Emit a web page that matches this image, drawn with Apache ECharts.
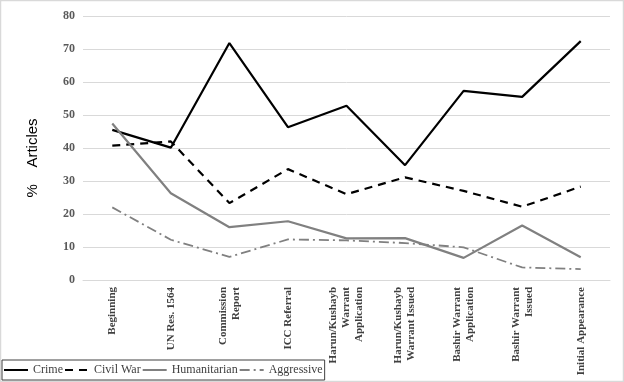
<!DOCTYPE html>
<html><head><meta charset="utf-8">
<script src="https://cdn.jsdelivr.net/npm/echarts@6/dist/echarts.min.js"></script>
<style>html,body{margin:0;padding:0;background:#fff}#c{width:624px;height:382px}</style>
</head><body><div id="c"></div>
<script>
const categories = ["Beginning","UN Res. 1564","Commission\nReport","ICC Referral","Harun/Kushayb\nWarrant\nApplication","Harun/Kushayb\nWarrant Issued","Bashir Warrant\nApplication","Bashir Warrant\nIssued","Initial Appearance"];
const crime = [45.5, 40.1, 71.8, 46.3, 52.8, 34.8, 57.3, 55.5, 72.4];
const civilWar = [40.7, 42.0, 23.3, 33.6, 26.0, 31.1, 27.0, 22.2, 28.3];
const humanitarian = [47.4, 26.3, 16.0, 17.8, 12.6, 12.7, 6.7, 16.5, 6.9];
const aggressive = [22.0, 12.2, 7.0, 12.3, 12.0, 11.2, 9.9, 3.8, 3.3];
const yTicks = [0,10,20,30,40,50,60,70,80];

const chart = echarts.init(document.getElementById('c'), null, {renderer:'canvas'});
const mk = (name, data, color, width, type) => ({
  name, type:'line', data, symbol:'none', showSymbol:false,
  lineStyle:{color, width, type}, itemStyle:{color}, animation:false
});
chart.setOption({
  animation:false,
  graphic:[
    {type:'rect', shape:{x:0.5,y:0.5,width:623,height:381}, style:{fill:'none', stroke:'#d9d9d9', lineWidth:1.5}, silent:true},
    {type:'text', x:33, y:158, rotation:Math.PI/2, style:{text:'%    Articles', fontFamily:'Liberation Sans', fontSize:15, fill:'#000', align:'center', verticalAlign:'middle'}}
  ],
  grid:{left:83, right:14, top:16, bottom:102, containLabel:false, outerBoundsMode:'none'},
  legend:{
    left:2, bottom:2, orient:'horizontal', itemWidth:24, itemHeight:10, itemGap:1,
    borderColor:'#404040', borderWidth:1, padding:[4,2,4,1],
    itemStyle:{opacity:0},
    textStyle:{fontFamily:'Liberation Serif', fontSize:12, color:'#404040'},
    data:['Crime','Civil War','Humanitarian','Aggressive']
  },
  xAxis:{
    type:'category', data:categories, boundaryGap:true,
    axisLine:{show:true, lineStyle:{color:'#d9d9d9'}}, axisTick:{show:false},
    axisLabel:{rotate:90, interval:0, margin:7, fontFamily:'Liberation Serif', fontWeight:'bold', fontSize:11, lineHeight:13, color:'#404040'}
  },
  yAxis:{
    type:'value', min:0, max:80, interval:10,
    axisLine:{show:false}, axisTick:{show:false},
    axisLabel:{margin:8, fontFamily:'Liberation Serif', fontWeight:'bold', fontSize:12, color:'#595959',
      formatter: v => yTicks.includes(v) ? String(v) : ''},
    splitLine:{lineStyle:{color:'#d9d9d9', width:1}}
  },
  series:[
    mk('Crime', crime, '#000000', 2.2, 'solid'),
    mk('Civil War', civilWar, '#000000', 2.2, [8,6]),
    mk('Humanitarian', humanitarian, '#808080', 2.2, 'solid'),
    mk('Aggressive', aggressive, '#808080', 1.8, [10,4,2,4])
  ]
});
</script></body></html>
